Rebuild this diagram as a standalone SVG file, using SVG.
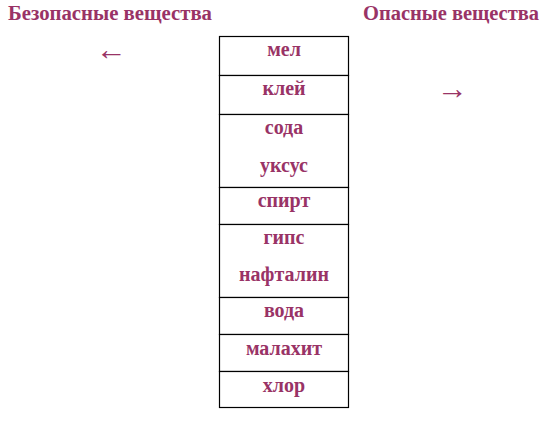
<svg xmlns="http://www.w3.org/2000/svg" width="555" height="424" viewBox="0 0 555 424">
<style>
text{font-family:"Liberation Serif","Times New Roman",serif;font-weight:bold;fill:#993366}
.h{font-size:20.6px}
.c{font-size:20px;text-anchor:middle}
.a{font-size:31px;font-weight:normal}
.cell{fill:#fff;stroke:#000;stroke-width:1.2}
</style>
<rect width="555" height="424" fill="#fff"/>
<g id="title-safe"><text class="h" x="8" y="19.5" textLength="204" lengthAdjust="spacingAndGlyphs">Безопасные вещества</text></g>
<g id="title-danger"><text class="h" x="363" y="19.5" textLength="176" lengthAdjust="spacingAndGlyphs">Опасные вещества</text></g>
<g id="connectors">
<text class="a" x="96" y="59.5">←</text>
<text class="a" x="437" y="99">→</text>
</g>
<g id="table">
<g id="n-mel"><rect class="cell" x="219.5" y="36.5" width="129" height="39"/><text class="c" x="284" y="55.5">мел</text></g>
<g id="n-klei"><rect class="cell" x="219.5" y="75.5" width="129" height="39"/><text class="c" x="284" y="94.5">клей</text></g>
<g id="n-soda"><rect class="cell" x="219.5" y="114.5" width="129" height="73"/><text class="c" x="284" y="134">сода</text><text class="c" x="284" y="171.5">уксус</text></g>
<g id="n-spirt"><rect class="cell" x="219.5" y="187.5" width="129" height="37"/><text class="c" x="284" y="207">спирт</text></g>
<g id="n-gips"><rect class="cell" x="219.5" y="224.5" width="129" height="73"/><text class="c" x="284" y="243.5">гипс</text><text class="c" x="284" y="281">нафталин</text></g>
<g id="n-voda"><rect class="cell" x="219.5" y="297.5" width="129" height="37"/><text class="c" x="284" y="317">вода</text></g>
<g id="n-malahit"><rect class="cell" x="219.5" y="334.5" width="129" height="37"/><text class="c" x="284" y="354.5">малахит</text></g>
<g id="n-hlor"><rect class="cell" x="219.5" y="371.5" width="129" height="36"/><text class="c" x="284" y="391.5">хлор</text></g>
</g>
</svg>
